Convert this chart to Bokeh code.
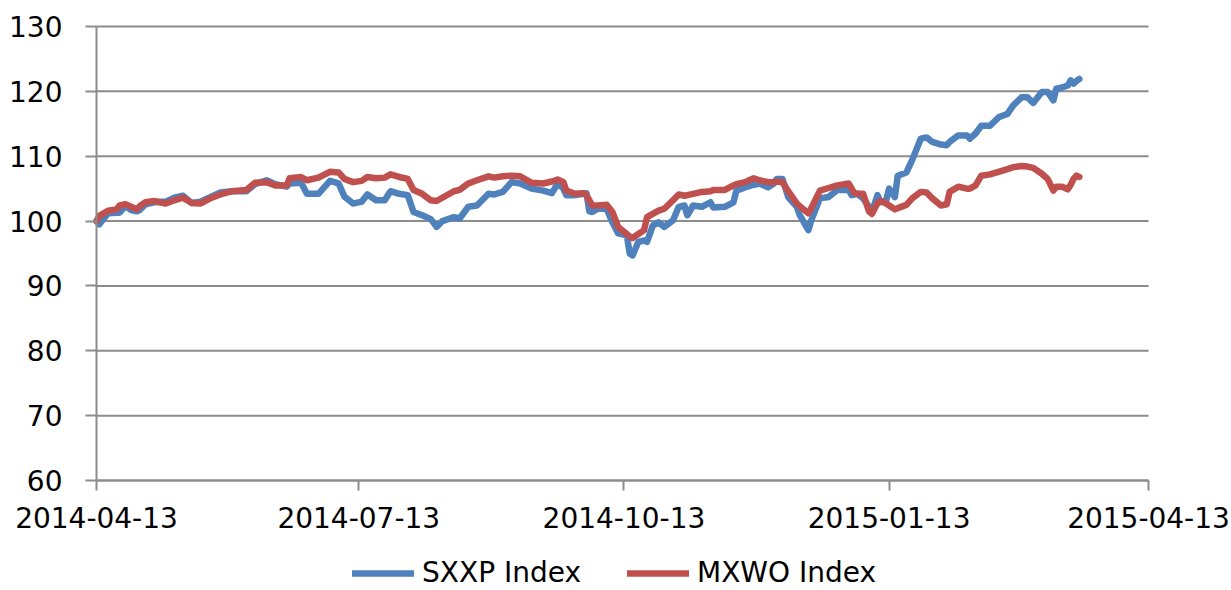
import pandas as pd
from bokeh.plotting import figure
from bokeh.models import (ColumnDataSource, Range1d, FixedTicker,
                          DatetimeTickFormatter, Legend, LegendItem)
from bokeh.embed import file_html
from bokeh.resources import INLINE

dates = [
    "2014-04-13", "2014-04-14", "2014-04-17", "2014-04-20", "2014-04-21", "2014-04-23",
    "2014-04-25", "2014-04-27", "2014-04-28", "2014-04-30", "2014-05-03", "2014-05-07",
    "2014-05-10", "2014-05-13", "2014-05-16", "2014-05-19", "2014-05-23", "2014-05-26",
    "2014-05-30", "2014-06-04", "2014-06-07", "2014-06-11", "2014-06-14", "2014-06-18",
    "2014-06-19", "2014-06-23", "2014-06-25", "2014-06-29", "2014-07-03", "2014-07-06",
    "2014-07-08", "2014-07-11", "2014-07-14", "2014-07-16", "2014-07-19", "2014-07-22",
    "2014-07-24", "2014-07-27", "2014-07-30", "2014-08-01", "2014-08-04", "2014-08-07",
    "2014-08-09", "2014-08-11", "2014-08-15", "2014-08-17", "2014-08-20", "2014-08-23",
    "2014-08-27", "2014-08-29", "2014-09-01", "2014-09-04", "2014-09-07", "2014-09-11",
    "2014-09-15", "2014-09-18", "2014-09-20", "2014-09-22", "2014-09-23", "2014-09-26",
    "2014-09-29", "2014-09-30", "2014-10-01", "2014-10-02", "2014-10-04", "2014-10-07",
    "2014-10-09", "2014-10-11", "2014-10-14", "2014-10-15", "2014-10-16", "2014-10-18",
    "2014-10-20", "2014-10-21", "2014-10-23", "2014-10-25", "2014-10-27", "2014-10-30",
    "2014-11-01", "2014-11-03", "2014-11-04", "2014-11-06", "2014-11-09", "2014-11-12",
    "2014-11-13", "2014-11-17", "2014-11-20", "2014-11-21", "2014-11-24", "2014-11-27",
    "2014-11-29", "2014-12-02", "2014-12-04", "2014-12-05", "2014-12-07", "2014-12-09",
    "2014-12-12", "2014-12-13", "2014-12-16", "2014-12-17", "2014-12-20", "2014-12-23",
    "2014-12-26", "2014-12-30", "2014-12-31", "2015-01-01", "2015-01-02", "2015-01-04",
    "2015-01-06", "2015-01-07", "2015-01-09", "2015-01-10", "2015-01-12", "2015-01-13",
    "2015-01-15", "2015-01-16", "2015-01-19", "2015-01-21", "2015-01-24", "2015-01-26",
    "2015-01-28", "2015-01-31", "2015-02-02", "2015-02-03", "2015-02-06", "2015-02-09",
    "2015-02-10", "2015-02-12", "2015-02-14", "2015-02-17", "2015-02-20", "2015-02-23",
    "2015-02-25", "2015-02-28", "2015-03-02", "2015-03-04", "2015-03-07", "2015-03-09",
    "2015-03-11", "2015-03-12", "2015-03-14", "2015-03-16", "2015-03-17", "2015-03-18",
    "2015-03-19", "2015-03-20",
]

sxxp = [
    100.0, 99.5, 101.2, 101.3, 101.3, 102.3,
    101.7, 101.5, 101.7, 102.6, 102.9, 103.0,
    103.6, 103.9, 102.8, 103.0, 103.8, 104.4,
    104.6, 104.6, 105.7, 106.3, 105.7, 105.3,
    105.8, 105.9, 104.2, 104.2, 106.2, 105.8,
    103.8, 102.7, 103.0, 104.1, 103.2, 103.2,
    104.6, 104.2, 104.0, 101.4, 100.9, 100.3,
    99.1, 100.0, 100.6, 100.4, 102.2, 102.4,
    104.2, 104.1, 104.5, 106.0, 105.8, 105.0,
    104.7, 104.3, 105.8, 105.0, 104.0, 104.0,
    104.2, 104.3, 101.5, 101.4, 101.9, 101.9,
    99.8, 98.1, 97.8, 95.0, 94.7, 96.8,
    97.0, 96.8, 99.3, 99.8, 99.1, 100.1,
    102.2, 102.4, 100.9, 102.4, 102.2, 102.9,
    102.1, 102.2, 102.9, 104.7, 105.2, 105.6,
    105.8, 105.2, 105.8, 106.5, 106.5, 103.7,
    102.2, 100.9, 98.6, 100.1, 103.5, 103.7,
    104.8, 104.8, 104.0, 104.1, 104.2, 103.5,
    102.2, 101.4, 104.0, 102.9, 103.2, 105.0,
    103.7, 107.0, 107.5, 109.4, 112.7, 112.9,
    112.2, 111.8, 111.7, 112.2, 113.2, 113.2,
    112.7, 113.5, 114.7, 114.7, 116.0, 116.5,
    117.8, 119.1, 119.1, 118.2, 119.9, 119.9,
    118.6, 120.4, 120.6, 120.9, 121.7, 121.2,
    121.6, 121.9,
]

mxwo = [
    100.0, 100.8, 101.6, 101.8, 102.4, 102.6,
    102.2, 101.8, 102.3, 102.9, 103.1, 102.7,
    103.2, 103.6, 102.8, 102.7, 103.6, 104.1,
    104.6, 104.8, 105.9, 106.0, 105.5, 105.5,
    106.6, 106.8, 106.3, 106.7, 107.6, 107.5,
    106.5, 106.0, 106.2, 106.8, 106.6, 106.7,
    107.2, 106.8, 106.5, 104.8, 104.2, 103.2,
    103.1, 103.6, 104.6, 104.8, 105.8, 106.3,
    106.9, 106.7, 106.9, 107.0, 106.9, 105.9,
    105.8, 106.1, 106.4, 106.0, 104.7, 104.2,
    104.3, 104.0, 103.2, 102.4, 102.4, 102.5,
    101.4, 99.1, 98.0, 97.6, 97.4, 98.0,
    98.6, 100.6, 101.1, 101.6, 101.9, 103.2,
    104.1, 103.9, 104.0, 104.2, 104.5, 104.6,
    104.8, 104.8, 105.5, 105.7, 106.0, 106.6,
    106.3, 106.0, 106.0, 106.1, 106.0, 104.6,
    102.7, 102.3, 101.2, 102.0, 104.7, 105.1,
    105.5, 105.8, 105.0, 104.3, 104.2, 104.2,
    101.5, 101.1, 102.8, 103.1, 102.7, 102.4,
    101.8, 102.0, 102.5, 103.5, 104.5, 104.4,
    103.5, 102.4, 102.6, 104.5, 105.3, 105.0,
    105.0, 105.5, 107.0, 107.2, 107.6, 108.0,
    108.3, 108.5, 108.4, 108.2, 107.3, 106.5,
    104.7, 105.3, 105.3, 104.9, 105.6, 106.5,
    107.0, 106.8,
]

series_names = ["SXXP Index", "MXWO Index"]
series_colors = ["#4F81BD", "#C0504D"]
x_ticks = ["2014-04-13", "2014-07-13", "2014-10-13", "2015-01-13", "2015-04-13"]
y_ticks = [60, 70, 80, 90, 100, 110, 120, 130]

FONT = "DejaVu Sans"
GRID = "#8C8C8C"
FS = "28px"

# layout in pixels: the frame covers the whole canvas; the chart box spans
# x 96..1148 and y 26 (130) .. 480 (60)
W, H = 1231, 590
TOP, AXIS_Y, LEFT, RIGHT = 26, 480, 96, 1148

x_tick_ms = [pd.Timestamp(t).value / 1e6 for t in x_ticks]
ms_per_px = (x_tick_ms[-1] - x_tick_ms[0]) / (RIGHT - LEFT)
x_lo = x_tick_ms[0] - LEFT * ms_per_px
x_hi = x_tick_ms[-1] + (W - RIGHT) * ms_per_px
units_per_px = (y_ticks[-1] - y_ticks[0]) / (AXIS_Y - TOP)
y_lo = y_ticks[0] - (H - AXIS_Y) * units_per_px
y_hi = y_ticks[-1] + TOP * units_per_px

src = ColumnDataSource(dict(date=pd.to_datetime(dates), sxxp=sxxp, mxwo=mxwo))
grid_src = ColumnDataSource(dict(x0=[x_tick_ms[0]] * len(y_ticks),
                                 x1=[x_tick_ms[-1]] * len(y_ticks),
                                 y=y_ticks))

p = figure(width=W, height=H, x_axis_type="datetime",
           output_backend="svg", toolbar_location=None,
           x_range=Range1d(x_lo, x_hi), y_range=Range1d(y_lo, y_hi),
           min_border_left=0, min_border_right=0,
           min_border_top=0, min_border_bottom=0)
p.outline_line_color = None
p.background_fill_color = "white"
p.border_fill_color = "white"
p.xgrid.visible = False
p.ygrid.visible = False

# horizontal gridlines, spanning the date axis only
p.segment(x0="x0", y0="y", x1="x1", y1="y", source=grid_src,
          line_color=GRID, line_width=2, level="underlay")

r1 = p.line("date", "sxxp", source=src, color=series_colors[0], line_width=6.5,
            line_join="round", line_cap="round")
r2 = p.line("date", "mxwo", source=src, color=series_colors[1], line_width=6.5,
            line_join="round", line_cap="round")

# x axis, pinned at the 60 line
xa = p.xaxis[0]
xa.fixed_location = y_ticks[0]
xa.bounds = (x_tick_ms[0], x_tick_ms[-1])
xa.ticker = FixedTicker(ticks=x_tick_ms)
fmt = "%Y-%m-%d"
xa.formatter = DatetimeTickFormatter(
    milliseconds=fmt, seconds=fmt, minsec=fmt, minutes=fmt, hourmin=fmt,
    hours=fmt, days=fmt, months=fmt, years=fmt)
xa.major_label_text_font = FONT
xa.major_label_text_font_size = FS
xa.major_label_text_color = "black"
xa.major_label_standoff = 16
xa.major_tick_in = 0
xa.major_tick_out = 10
xa.minor_tick_line_color = None
xa.axis_line_color = GRID
xa.axis_line_width = 2
xa.major_tick_line_color = GRID
xa.major_tick_line_width = 2

# y axis, pinned at the first date
ya = p.yaxis[0]
ya.fixed_location = x_tick_ms[0]
ya.ticker = FixedTicker(ticks=y_ticks)
ya.bounds = (y_ticks[0], y_ticks[-1])
ya.major_label_text_font = FONT
ya.major_label_text_font_size = FS
ya.major_label_text_color = "black"
ya.major_label_standoff = 23
ya.major_tick_in = 0
ya.major_tick_out = 11
ya.minor_tick_line_color = None
ya.axis_line_color = GRID
ya.axis_line_width = 2
ya.major_tick_line_color = GRID
ya.major_tick_line_width = 2

legend = Legend(items=[LegendItem(label=series_names[0], renderers=[r1]),
                       LegendItem(label=series_names[1], renderers=[r2])],
                orientation="horizontal", location=(352, 1),
                padding=0, margin=0, spacing=46, label_standoff=8,
                glyph_width=62, glyph_height=24, label_height=24,
                label_text_font=FONT, label_text_font_size=FS,
                label_text_color="black",
                border_line_color=None, background_fill_alpha=0)
p.add_layout(legend, "center")

open("out.html", "w").write(file_html(p, INLINE))
